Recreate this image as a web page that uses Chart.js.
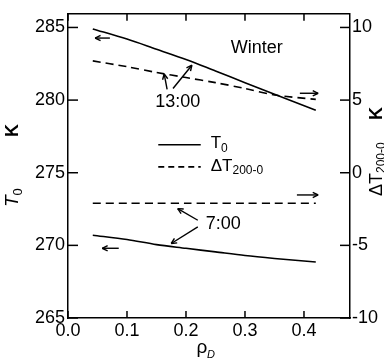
<!DOCTYPE html>
<html>
<head>
<meta charset="utf-8">
<script src="https://cdn.jsdelivr.net/npm/chart.js@4.4.0/dist/chart.umd.min.js"></script>
<style>
html, body { margin: 0; padding: 0; background: #fff; }
</style>
</head>
<body>
<canvas id="Chart1" width="384" height="360"></canvas>
<script>
// density values on the x axis
var rho = [0.042, 0.1, 0.15, 0.2, 0.25, 0.3, 0.35, 0.42];

// 13:00 curves
var t0Noon = [284.9, 284.2, 283.5, 282.8, 282.0, 281.2, 280.4, 279.3];
var dtNoon = [7.7, 7.3, 6.9, 6.55, 6.2, 5.8, 5.35, 5.05];

// 7:00 curves
var t0Morning = [270.7, 270.4, 270.05, 269.8, 269.55, 269.3, 269.1, 268.85];
var dtMorning = [-2.1, -2.1, -2.1, -2.1, -2.1, -2.1, -2.1, -2.1];

var xTicks = [0, 0.1, 0.2, 0.3, 0.4];
var leftTicks = [265, 270, 275, 280, 285];
var rightTicks = [-10, -5, 0, 5, 10];

var FONT = '"Liberation Sans", Arial, sans-serif';

function pairs(xs, ys) {
	return xs.map(function (x, i) { return { x: x, y: ys[i] }; });
}

// text with a smaller lowered part, e.g. T0 or dT200-0
function subText(ctx, x, y, main, sub, size, italic) {
	ctx.font = (italic ? 'italic ' : '') + size + 'px ' + FONT;
	ctx.fillText(main, x, y);
	var w = ctx.measureText(main).width;
	ctx.font = Math.round(size * 0.68) + 'px ' + FONT;
	ctx.fillText(sub, x + w, y + size * 0.28);
	return w + ctx.measureText(sub).width;
}

var inkPlugin = {
	id: 'ink',
	afterDraw: function (chart) {
		var ctx = chart.ctx;
		var a = chart.chartArea;
		var sx = chart.scales.x, sy = chart.scales.y, sy2 = chart.scales.y2;

		function line(x1, y1, x2, y2) {
			ctx.beginPath();
			ctx.moveTo(x1, y1);
			ctx.lineTo(x2, y2);
			ctx.stroke();
		}

		// arrow between two points given in (rho, T) units
		function arrow(p1, t1, p2, t2) {
			var x1 = sx.getPixelForValue(p1), y1 = sy.getPixelForValue(t1);
			var x2 = sx.getPixelForValue(p2), y2 = sy.getPixelForValue(t2);
			var ang = Math.atan2(y2 - y1, x2 - x1);
			ctx.lineWidth = 1.4;
			line(x1, y1, x2, y2);
			line(x2, y2, x2 - 6 * Math.cos(ang - 0.45), y2 - 6 * Math.sin(ang - 0.45));
			line(x2, y2, x2 - 6 * Math.cos(ang + 0.45), y2 - 6 * Math.sin(ang + 0.45));
		}

		ctx.save();
		ctx.strokeStyle = '#000';
		ctx.fillStyle = '#000';

		// top frame and inward ticks
		ctx.lineWidth = 1.5;
		line(a.left, a.top, a.right, a.top);
		xTicks.forEach(function (v) {
			var px = sx.getPixelForValue(v);
			line(px, a.bottom, px, a.bottom - 7);
			line(px, a.top, px, a.top + 7);
		});
		leftTicks.forEach(function (v) {
			var py = sy.getPixelForValue(v);
			line(a.left, py, a.left + 10, py);
		});
		rightTicks.forEach(function (v) {
			var py = sy2.getPixelForValue(v);
			line(a.right, py, a.right - 10, py);
		});

		// arrows
		arrow(0.071, 284.27, 0.046, 284.27);
		arrow(0.086, 269.8, 0.058, 269.8);
		arrow(0.393, 280.47, 0.424, 280.47);
		arrow(0.388, 273.47, 0.424, 273.47);
		arrow(0.168, 280.73, 0.163, 281.8);
		arrow(0.178, 280.8, 0.21, 282.4);
		arrow(0.22, 271.73, 0.186, 272.53);
		arrow(0.22, 271.27, 0.175, 270.13);

		// labels in the plot
		ctx.textAlign = 'center';
		ctx.textBaseline = 'middle';
		ctx.font = '18px ' + FONT;
		ctx.fillText('Winter', sx.getPixelForValue(0.32), sy.getPixelForValue(283.6));
		ctx.fillText('13:00', sx.getPixelForValue(0.186), sy.getPixelForValue(279.87));
		ctx.fillText('7:00', sx.getPixelForValue(0.263), sy.getPixelForValue(271.47));

		// legend
		var lx1 = sx.getPixelForValue(0.153), lx2 = sx.getPixelForValue(0.225);
		var ly1 = sy.getPixelForValue(276.93), ly2 = sy.getPixelForValue(275.4);
		ctx.lineWidth = 1.6;
		line(lx1, ly1, lx2, ly1);
		ctx.setLineDash([6, 4]);
		line(lx1, ly2, lx2, ly2);
		ctx.setLineDash([]);
		ctx.textAlign = 'left';
		subText(ctx, lx2 + 10, ly1 - 1, 'T', '0', 17, false);
		subText(ctx, lx2 + 10, ly2 - 1, '\u0394T', '200-0', 17, false);

		// axis titles
		ctx.save();
		ctx.translate(13, 207);
		ctx.rotate(-Math.PI / 2);
		subText(ctx, 0, 0, 'T', '0', 19, true);
		ctx.font = 'bold 18px ' + FONT;
		ctx.fillText('K', 70, 0);
		ctx.restore();

		ctx.save();
		ctx.translate(377, 196);
		ctx.rotate(-Math.PI / 2);
		subText(ctx, 0, 0, '\u0394T', '200-0', 18, false);
		ctx.font = 'bold 18px ' + FONT;
		ctx.fillText('K', 76, 0);
		ctx.restore();

		ctx.textAlign = 'center';
		ctx.font = '19px ' + FONT;
		ctx.fillText('\u03c1', 202, 348);
		ctx.font = 'italic 11px ' + FONT;
		ctx.fillText('D', 211, 355);

		ctx.restore();
	}
};

var tickFont = { family: FONT, size: 18 };

var context = document.getElementById('Chart1').getContext('2d');

var myChart = new Chart(context, {
	type: 'line',
	data: {
		datasets: [{
			label: 'T0 13:00',
			data: pairs(rho, t0Noon),
			yAxisID: 'y'
		}, {
			label: 'dT 13:00',
			data: pairs(rho, dtNoon),
			yAxisID: 'y2',
			borderDash: [8, 5]
		}, {
			label: 'dT 7:00',
			data: pairs(rho, dtMorning),
			yAxisID: 'y2',
			borderDash: [8, 5]
		}, {
			label: 'T0 7:00',
			data: pairs(rho, t0Morning),
			yAxisID: 'y'
		}]
	},
	options: {
		responsive: false,
		animation: false,
		devicePixelRatio: 1,
		layout: { padding: { top: 5, left: 0, right: 0, bottom: 0 } },
		elements: {
			point: { radius: 0 },
			line: { borderColor: '#000', borderWidth: 1.6, tension: 0.3, fill: false }
		},
		plugins: {
			legend: { display: false },
			tooltip: { enabled: false }
		},
		scales: {
			x: {
				type: 'linear',
				min: 0,
				max: 0.478,
				afterBuildTicks: function (s) { s.ticks = xTicks.map(function (v) { return { value: v }; }); },
				afterFit: function (s) { s.height = 42; },
				ticks: {
					color: '#000',
					font: tickFont,
					padding: 2,
					maxRotation: 0,
					autoSkip: false,
					callback: function (v) { return v.toFixed(1); }
				},
				grid: { drawOnChartArea: false, drawTicks: false },
				border: { color: '#000', width: 1.5 }
			},
			y: {
				position: 'left',
				min: 265,
				max: 285.94,
				afterBuildTicks: function (s) { s.ticks = leftTicks.map(function (v) { return { value: v }; }); },
				afterFit: function (s) { s.width = 68; },
				ticks: { color: '#000', font: tickFont, padding: 3 },
				grid: { drawOnChartArea: false, drawTicks: false },
				border: { color: '#000', width: 1.5 }
			},
			y2: {
				position: 'right',
				min: -10,
				max: 10.94,
				afterBuildTicks: function (s) { s.ticks = rightTicks.map(function (v) { return { value: v }; }); },
				afterFit: function (s) { s.width = 34; },
				ticks: { color: '#000', font: tickFont, padding: 2 },
				grid: { drawOnChartArea: false, drawTicks: false },
				border: { color: '#000', width: 1.5 }
			}
		}
	},
	plugins: [inkPlugin]
});
</script>
</body>
</html>
